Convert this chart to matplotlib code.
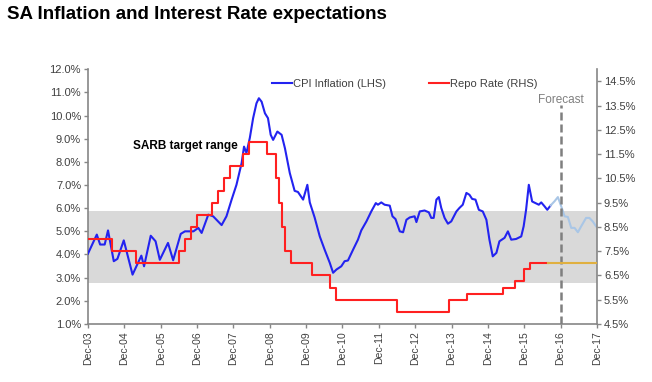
import matplotlib
matplotlib.use('Agg')
import matplotlib.pyplot as plt
from matplotlib.lines import Line2D

plt.rcParams['font.family'] = ['Liberation Sans', 'DejaVu Sans']

# months counted from Dec-03
cpi_months = [0, 2.9, 4, 5.5, 6.6, 8.5, 9.7, 11.8, 14.7, 17.6, 18.5, 20.7, 22.3, 23.7, 26.4,
              28.1, 30.6, 32.0, 34.8, 36.4, 37.5, 39.7, 41.3, 44.1, 45.7, 47.4, 49.0, 50.7,
              51.5, 52.3, 53.4, 54.5, 55.6, 56.4, 57.3, 58.4, 59.4, 60.3, 61.1, 62.5, 63.9,
              65.0, 66.6, 68.2, 69.3, 71.0, 72.4, 73.2, 74.8, 76.5, 78.1, 79.8, 80.9, 82.0,
              83.6, 84.7, 85.8, 87.5, 89.1, 90.2, 91.9, 93.5, 95.0, 95.7, 96.8, 97.9, 99.6,
              100.5, 101.5, 102.9, 104.0, 105.1, 106.2, 107.8, 108.4, 109.5, 111.1, 112.5,
              113.3, 114.1, 115.0, 115.8, 116.6, 117.7, 118.8, 119.9, 121.6, 122.6, 123.7,
              124.9, 125.9, 126.8, 127.9, 129.0, 130.3, 131.5, 132.5, 133.6, 134.8, 135.8,
              137.5, 138.6, 139.7, 141.3, 143.0, 143.8, 144.6, 145.5, 146.6, 147.7, 148.8,
              149.6, 150.7, 151.6, 152.7]
cpi_values = [4.04, 4.86, 4.43, 4.43, 5.04, 3.71, 3.81, 4.61, 3.13, 3.95, 3.49, 4.81, 4.57, 3.77, 4.50,
              3.75, 4.89, 5.00, 5.00, 5.15, 4.93, 5.72, 5.65, 5.27, 5.65, 6.37, 7.01, 7.95,
              8.66, 8.38, 9.03, 9.89, 10.53, 10.75, 10.60, 10.10, 9.89, 9.17, 8.95, 9.31, 9.17,
              8.59, 7.52, 6.75, 6.70, 6.37, 7.01, 6.25, 5.60, 4.78, 4.21, 3.64, 3.21, 3.35,
              3.49, 3.71, 3.74, 4.21, 4.64, 5.04, 5.43, 5.86, 6.22, 6.15, 6.25, 6.15, 6.11,
              5.65, 5.53, 5.00, 4.96, 5.50, 5.60, 5.65, 5.40, 5.86, 5.90, 5.82,
              5.58, 5.58, 6.37, 6.48, 6.01, 5.58, 5.33, 5.43, 5.86, 6.01, 6.15,
              6.66, 6.58, 6.40, 6.37, 5.93, 5.86, 5.50, 4.64, 3.92, 4.07, 4.57,
              4.72, 5.00, 4.64, 4.67, 4.78, 5.22, 5.93, 7.01, 6.29, 6.22, 6.15,
              6.25, 6.08, 5.93, 6.12]

cpi_fc_months = [152.7, 154.0, 155.1, 156.2, 157.3, 158.4, 159.5, 160.6, 161.7, 162.8,
                 164.4, 165.5, 166.6, 167.7]
cpi_fc_values = [6.12, 6.30, 6.48, 6.08, 5.65, 5.62, 5.15, 5.15, 4.96, 5.22,
                 5.58, 5.58, 5.43, 5.22]

repo_months = [0, 8, 16, 30, 32, 34, 36, 41, 43, 45, 47, 51, 53, 59, 62, 63, 64, 65, 67,
               74, 80, 82, 102, 119, 125, 137, 141, 144, 146, 152]
repo_values = [8.0, 7.5, 7.0, 7.5, 8.0, 8.5, 9.0, 9.5, 10.0, 10.5, 11.0, 11.5, 12.0, 11.5,
               10.5, 9.5, 8.5, 7.5, 7.0, 6.5, 6.0, 5.5, 5.0, 5.5, 5.75, 6.0, 6.25, 6.75,
               7.0, 7.0]
repo_fc_months = [152, 168]
repo_fc_values = [7.0, 7.0]

tick_labels = ['Dec-03', 'Dec-04', 'Dec-05', 'Dec-06', 'Dec-07', 'Dec-08', 'Dec-09',
               'Dec-10', 'Dec-11', 'Dec-12', 'Dec-13', 'Dec-14', 'Dec-15', 'Dec-16', 'Dec-17']
left_ticks = [1, 2, 3, 4, 5, 6, 7, 8, 9, 10, 11, 12]
right_ticks = [4.5, 5.5, 6.5, 7.5, 8.5, 9.5, 10.5, 11.5, 12.5, 13.5, 14.5]
target_band = (2.75, 5.88)
forecast_month = 156

axis_grey = '#868686'
label_grey = '#404040'

fig = plt.figure(figsize=(6.52, 3.82), dpi=100, facecolor='white')
ax = fig.add_axes([0.135, 0.152, 0.7806, 0.6666])
ax2 = ax.twinx()

ax.axhspan(target_band[0], target_band[1], color='#d9d9d9', lw=0, zorder=0)
ax.plot(cpi_months, cpi_values, color='#2323f0', lw=1.5, zorder=3)
ax.plot(cpi_fc_months, cpi_fc_values, color='#a9c6e6', lw=1.5, zorder=3)
ax.vlines(forecast_month, 1, 10.46, color='#7f7f7f', lw=1.8, linestyles=(0, (3.2, 1.6)), zorder=4)
ax.text(forecast_month, 10.68, 'Forecast', color='#7f7f7f', fontsize=8.5, ha='center', va='center')
ax.text(14.8, 8.69, 'SARB target range', fontsize=8.5, fontweight='bold', color='black',
        ha='left', va='center')

ax2.plot(repo_months, repo_values, color='#ff2020', lw=1.5, drawstyle='steps-post', zorder=3)
ax2.plot(repo_fc_months, repo_fc_values, color='#e0b040', lw=1.5, zorder=3)

ax.set_xlim(0, 168)
ax.set_ylim(1, 12)
ax2.set_ylim(4.5, 15.0)
ax.set_xticks(range(0, 169, 12))
ax.set_xticklabels(tick_labels, rotation=90, fontsize=7.5, color=label_grey)
ax.set_yticks(left_ticks)
ax.set_yticklabels([f'{v:.1f}%' for v in left_ticks], fontsize=8, color=label_grey)
ax2.set_yticks(right_ticks)
ax2.set_yticklabels([f'{v:.1f}%' for v in right_ticks], fontsize=8, color=label_grey)

for a in (ax, ax2):
    a.spines['top'].set_visible(False)
    for s in ('left', 'right', 'bottom'):
        a.spines[s].set_color(axis_grey)
        a.spines[s].set_linewidth(1.2)
    a.tick_params(colors=axis_grey, length=3, width=1, labelcolor=label_grey, pad=2)
ax.spines['right'].set_visible(False)
ax2.spines['left'].set_visible(False)
ax2.spines['bottom'].set_visible(False)

# legend
handles = [Line2D([], [], color='#2323f0', lw=1.5), Line2D([], [], color='#ff2020', lw=1.5)]
ax2.legend(handles, ['CPI Inflation (LHS)', 'Repo Rate (RHS)'], loc='upper center',
           bbox_to_anchor=(0.622, 1.0), ncol=2, frameon=False, fontsize=8, handlelength=1.8,
           handletextpad=0.1, columnspacing=3.9, labelcolor=label_grey)

fig.text(0.011, 0.963, 'SA Inflation and Interest Rate expectations', fontsize=13.5,
         fontweight='bold', color='black', ha='left', va='center')

fig.savefig('out.png', dpi=100, facecolor='white')
